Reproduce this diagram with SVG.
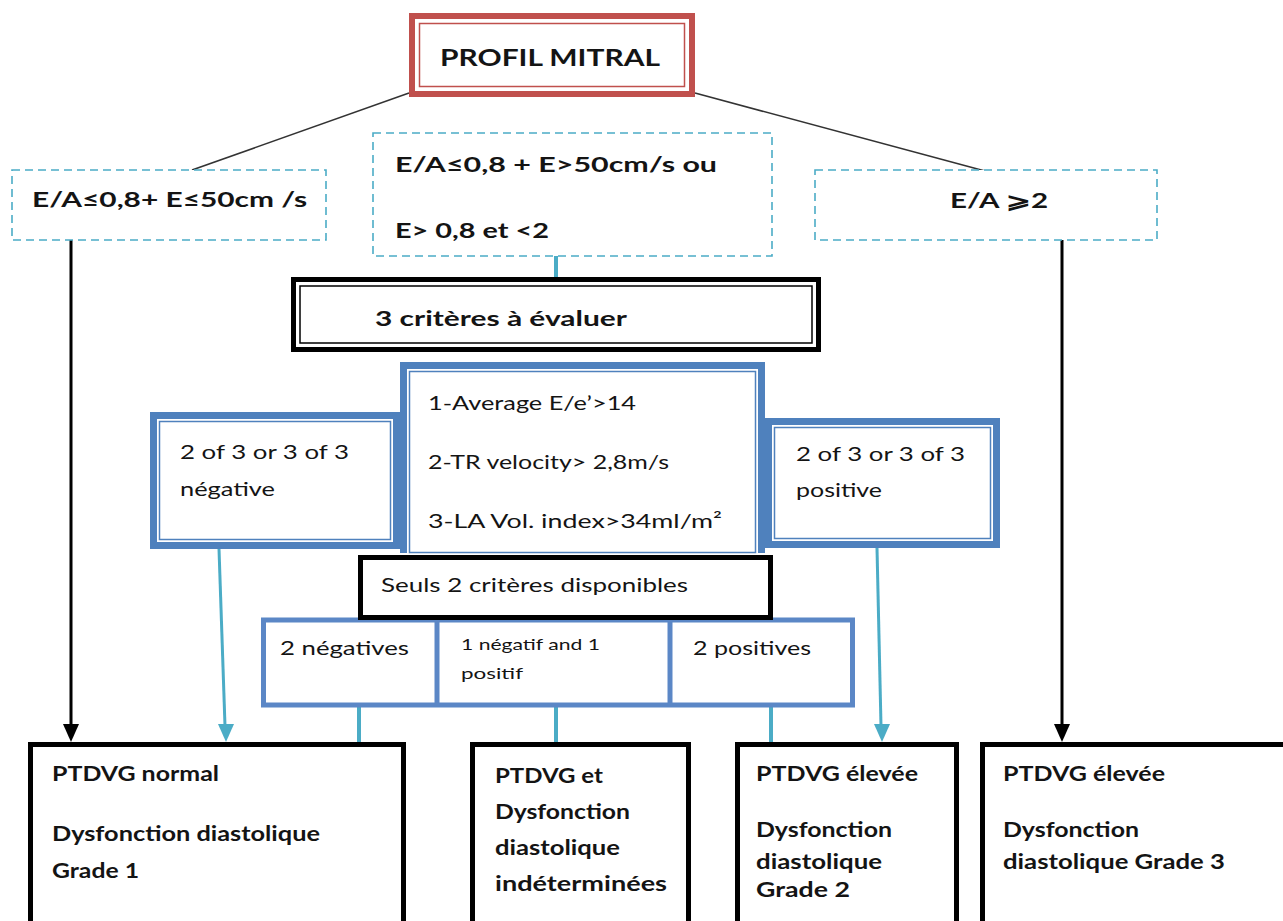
<svg xmlns="http://www.w3.org/2000/svg" width="1283" height="921" viewBox="0 0 1283 921">
<defs>
<style>
text{font-family:Lato,"Open Sans","Liberation Sans",sans-serif;fill:#141414;}
.b{font-weight:bold;}
.dash{fill:#fff;stroke:#4bacc6;stroke-width:1.6;stroke-dasharray:8 5;}
.blk{fill:#fff;stroke:#000;stroke-width:5;}
.thin{fill:none;stroke:#000;stroke-width:1.5;}
.bb{fill:#4f81bd;}
.bw{fill:#fff;}
.bt{fill:none;stroke:#4f81bd;stroke-width:1.5;}
.teal{stroke:#4bacc6;stroke-width:4;fill:none;}
.tealA{stroke:#4bacc6;stroke-width:3;fill:none;}
.blkA{stroke:#000;stroke-width:3;fill:none;}
.row{fill:#fff;stroke:#5b87c6;stroke-width:5;}
</style>
</defs>
<rect width="1283" height="921" fill="#fff"/>

<g id="connectors">
<line x1="409" y1="93" x2="192" y2="170" stroke="#333" stroke-width="1.6"/>
<line x1="695" y1="93" x2="985" y2="171" stroke="#333" stroke-width="1.6"/>
<line class="blkA" x1="71" y1="240" x2="71" y2="726"/>
<polygon points="63,724 79,724 71,742" fill="#000"/>
<line class="blkA" x1="1062" y1="240" x2="1062" y2="726"/>
<polygon points="1054,724 1070,724 1062,742" fill="#000"/>
<line class="teal" x1="556" y1="256" x2="556" y2="279"/>
<line class="tealA" x1="219" y1="549" x2="225" y2="726"/>
<polygon points="218,724 234,724 226,742" fill="#4bacc6"/>
<line class="tealA" x1="877" y1="548" x2="881" y2="726"/>
<polygon points="874,724 890,724 882,742" fill="#4bacc6"/>
<line class="teal" x1="359" y1="707" x2="359" y2="744"/>
<line class="teal" x1="556" y1="707" x2="556" y2="744"/>
<line class="teal" x1="771" y1="707" x2="771" y2="744"/>
</g>

<g id="profil">
<rect x="412" y="16" width="280" height="78" fill="#fff" stroke="#c0504d" stroke-width="6"/>
<rect x="419.5" y="23.5" width="265" height="63" fill="none" stroke="#c0504d" stroke-width="1.5"/>
<text class="b" x="440" y="66" font-size="23" textLength="220" lengthAdjust="spacingAndGlyphs">PROFIL MITRAL</text>
</g>

<g id="ea-low">
<rect class="dash" x="12" y="170" width="314" height="70"/>
<text class="b" x="32" y="207" font-size="21" textLength="275" lengthAdjust="spacingAndGlyphs">E/A≤0,8+ E≤50cm /s</text>
</g>

<g id="ea-mid">
<rect class="dash" x="373" y="133" width="399" height="123"/>
<text class="b" x="395" y="172" font-size="21" textLength="322" lengthAdjust="spacingAndGlyphs">E/A≤0,8 + E&gt;50cm/s  ou</text>
<text class="b" x="395" y="238" font-size="21" textLength="154" lengthAdjust="spacingAndGlyphs">E&gt; 0,8 et &lt;2</text>
</g>

<g id="ea-high">
<rect class="dash" x="815" y="170" width="342" height="70"/>
<text class="b" x="950" y="208" font-size="21" textLength="98" lengthAdjust="spacingAndGlyphs">E/A ⩾2</text>
</g>

<g id="criteres">
<rect class="blk" x="293.5" y="279.5" width="525" height="70"/>
<rect class="thin" x="300" y="286" width="512" height="57"/>
<text class="b" x="375" y="326" font-size="21" textLength="252" lengthAdjust="spacingAndGlyphs">3 critères à  évaluer</text>
</g>

<g id="neg3">
<rect class="bb" x="150" y="412" width="250" height="137"/>
<rect class="bw" x="157" y="419" width="236" height="123"/>
<rect class="bt" x="159.5" y="421.5" width="231" height="118"/>
<text x="180" y="459" font-size="20" textLength="169" lengthAdjust="spacingAndGlyphs">2 of 3 or  3 of 3</text>
<text x="180" y="496" font-size="20" textLength="95" lengthAdjust="spacingAndGlyphs">négative</text>
</g>

<g id="list3">
<rect class="bb" x="400" y="362" width="365" height="191"/>
<rect class="bw" x="407" y="369" width="351" height="184"/>
<rect class="bt" x="409.5" y="371.5" width="346" height="181"/>
<text x="428" y="410" font-size="20" textLength="208" lengthAdjust="spacingAndGlyphs">1-Average E/e’&gt;14</text>
<text x="428" y="469" font-size="20" textLength="241" lengthAdjust="spacingAndGlyphs">2-TR velocity&gt; 2,8m/s</text>
<text x="428" y="528" font-size="20" textLength="294" lengthAdjust="spacingAndGlyphs">3-LA Vol. index&gt;34ml/m²</text>
</g>

<g id="pos3">
<rect class="bb" x="765" y="418" width="235" height="130"/>
<rect class="bw" x="772" y="425" width="221" height="116"/>
<rect class="bt" x="774.5" y="427.5" width="216" height="111"/>
<text x="796" y="461" font-size="20" textLength="169" lengthAdjust="spacingAndGlyphs">2 of 3 or  3 of 3</text>
<text x="796" y="497" font-size="20" textLength="86" lengthAdjust="spacingAndGlyphs">positive</text>
</g>

<g id="row2">
<rect class="row" x="263.5" y="620" width="589" height="85"/>
<line x1="437" y1="620" x2="437" y2="707" stroke="#5b87c6" stroke-width="5"/>
<line x1="670" y1="620" x2="670" y2="707" stroke="#5b87c6" stroke-width="5"/>
</g>

<g id="seuls">
<rect class="blk" x="360.5" y="557.5" width="410" height="60"/>
<text x="381" y="592" font-size="20" textLength="307" lengthAdjust="spacingAndGlyphs">Seuls 2 critères disponibles</text>
</g>

<g id="neg2">
<text x="280" y="655" font-size="20" textLength="129" lengthAdjust="spacingAndGlyphs">2 négatives</text>
</g>
<g id="mixed">
<text x="461" y="650" font-size="16" textLength="139" lengthAdjust="spacingAndGlyphs">1 négatif and 1</text>
<text x="461" y="679" font-size="16" textLength="62" lengthAdjust="spacingAndGlyphs">positif</text>
</g>
<g id="pos2">
<text x="693" y="655" font-size="20" textLength="118" lengthAdjust="spacingAndGlyphs">2 positives</text>
</g>

<g id="grade1">
<rect class="blk" x="30.5" y="744.5" width="373" height="220"/>
<text class="b" x="52" y="781" font-size="21" textLength="167" lengthAdjust="spacingAndGlyphs">PTDVG normal</text>
<text class="b" x="52" y="841" font-size="21" textLength="268" lengthAdjust="spacingAndGlyphs">Dysfonction diastolique</text>
<text class="b" x="52" y="878" font-size="21" textLength="87" lengthAdjust="spacingAndGlyphs">Grade 1</text>
</g>

<g id="indet">
<rect class="blk" x="472.5" y="744.5" width="216" height="220"/>
<text class="b" x="495" y="783" font-size="21" textLength="108" lengthAdjust="spacingAndGlyphs">PTDVG et</text>
<text class="b" x="495" y="819" font-size="21" textLength="135" lengthAdjust="spacingAndGlyphs">Dysfonction</text>
<text class="b" x="495" y="855" font-size="21" textLength="125" lengthAdjust="spacingAndGlyphs">diastolique</text>
<text class="b" x="495" y="891" font-size="21" textLength="172" lengthAdjust="spacingAndGlyphs">indéterminées</text>
</g>

<g id="grade2">
<rect class="blk" x="737.5" y="744.5" width="219" height="220"/>
<text class="b" x="756" y="781" font-size="21" textLength="162" lengthAdjust="spacingAndGlyphs">PTDVG élevée</text>
<text class="b" x="756" y="837" font-size="21" textLength="136" lengthAdjust="spacingAndGlyphs">Dysfonction</text>
<text class="b" x="756" y="869" font-size="21" textLength="126" lengthAdjust="spacingAndGlyphs">diastolique</text>
<text class="b" x="756" y="897" font-size="21" textLength="94" lengthAdjust="spacingAndGlyphs">Grade 2</text>
</g>

<g id="grade3">
<rect class="blk" x="982.5" y="744.5" width="320" height="220"/>
<text class="b" x="1003" y="781" font-size="21" textLength="162" lengthAdjust="spacingAndGlyphs">PTDVG élevée</text>
<text class="b" x="1003" y="837" font-size="21" textLength="136" lengthAdjust="spacingAndGlyphs">Dysfonction</text>
<text class="b" x="1003" y="869" font-size="21" textLength="222" lengthAdjust="spacingAndGlyphs">diastolique Grade 3</text>
</g>
</svg>
